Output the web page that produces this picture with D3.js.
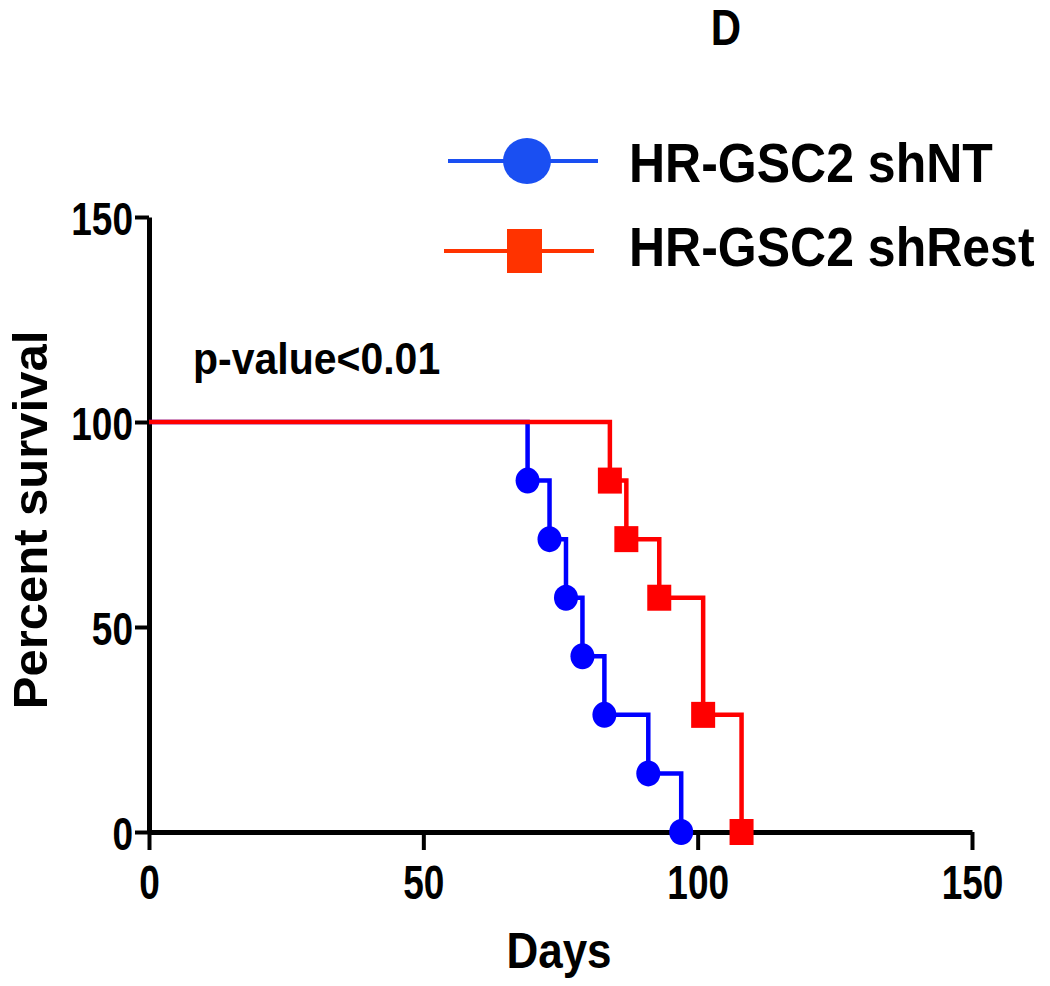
<!DOCTYPE html>
<html><head><meta charset="utf-8">
<script src="https://cdn.jsdelivr.net/npm/d3@7"></script>
<style>
html,body{margin:0;padding:0;background:#fff;}
text{font-family:"Liberation Sans",Arial,sans-serif;font-weight:bold;fill:#000;}
</style></head>
<body><svg id="c" width="1050" height="986"></svg>
<script>
const seriesNames = ["HR-GSC2 shNT", "HR-GSC2 shRest"];
const ntDays = [0, 69, 73, 76, 79, 83, 91, 97];
const ntSurv = [100, 85.71, 71.43, 57.14, 42.86, 28.57, 14.29, 0];
const restDays = [0, 84, 87, 93, 101, 108];
const restSurv = [100, 85.71, 71.43, 57.14, 28.57, 0];
const xTicks = [0, 50, 100, 150];
const yTicks = [0, 50, 100, 150];
const colors = ["#0000ff", "#ff0000"];
const legendColors = ["#1a4ff2", "#ff3300"];

const svg = d3.select("#c");
const x = d3.scaleLinear().domain([0, 150]).range([149, 972]);
const y = d3.scaleLinear().domain([0, 150]).range([832, 217]);

// axes
const xAxis = svg.append("g").attr("transform", "translate(0,832)")
  .call(d3.axisBottom(x).tickValues(xTicks).tickSize(18).tickPadding(8).tickSizeOuter(0));
const yAxis = svg.append("g").attr("transform", "translate(149,0)")
  .call(d3.axisLeft(y).tickValues(yTicks).tickSize(14).tickPadding(8).tickSizeOuter(0));
[xAxis, yAxis].forEach(a => {
  a.select(".domain").attr("stroke", "#000").attr("stroke-width", 5);
  a.selectAll(".tick line").attr("stroke", "#000").attr("stroke-width", 4);
  a.attr("font-family", null).attr("font-size", null);
});
xAxis.selectAll(".tick text")
  .attr("y", 0).attr("dy", null)
  .attr("transform", "translate(0,67) scale(1,1.3)")
  .style("font-size", "37px");
yAxis.selectAll(".tick text")
  .attr("x", 0).attr("y", 0).attr("dy", null)
  .attr("transform", "translate(-16,17) scale(1,1.25)")
  .style("font-size", "37px");

// survival step curves
function stepPath(days, surv) {
  const pts = days.map((d, i) => [d, surv[i]]);
  return d3.line().x(d => x(d[0])).y(d => y(d[1])).curve(d3.curveStepAfter)(pts);
}
const g = svg.append("g");
g.append("path").attr("d", stepPath(ntDays, ntSurv))
  .attr("fill", "none").attr("stroke", colors[0]).attr("stroke-width", 4.5);
g.append("path").attr("d", stepPath(restDays, restSurv))
  .attr("fill", "none").attr("stroke", colors[1]).attr("stroke-width", 4.5);

// markers
g.selectAll("ellipse.nt").data(ntDays.slice(1).map((d, i) => [d, ntSurv[i + 1]]))
  .enter().append("ellipse")
  .attr("cx", d => x(d[0])).attr("cy", d => y(d[1]))
  .attr("rx", 12).attr("ry", 13).attr("fill", colors[0]);
g.selectAll("rect.rs").data(restDays.slice(1).map((d, i) => [d, restSurv[i + 1]]))
  .enter().append("rect")
  .attr("x", d => x(d[0]) - 12).attr("y", d => y(d[1]) - 13)
  .attr("width", 24).attr("height", 26).attr("fill", colors[1]);

// legend
const lg = svg.append("g");
lg.append("line").attr("x1", 448).attr("x2", 598).attr("y1", 161).attr("y2", 161)
  .attr("stroke", legendColors[0]).attr("stroke-width", 4);
lg.append("ellipse").attr("cx", 527).attr("cy", 161).attr("rx", 24).attr("ry", 23)
  .attr("fill", legendColors[0]);
lg.append("line").attr("x1", 444).attr("x2", 594).attr("y1", 251).attr("y2", 251)
  .attr("stroke", legendColors[1]).attr("stroke-width", 4);
lg.append("rect").attr("x", 507).attr("y", 229).attr("width", 35).attr("height", 44)
  .attr("fill", legendColors[1]);
lg.append("text").attr("transform", "translate(629,182) scale(1,1.1)").style("font-size", "50px").text(seriesNames[0]);
lg.append("text").attr("transform", "translate(629,266) scale(1,1.1)").style("font-size", "50px").text(seriesNames[1]);

// annotations
svg.append("text").attr("transform", "translate(193,374) scale(1,1.08)").style("font-size", "41px").text("p-value<0.01");
svg.append("text").attr("transform", "translate(559,968) scale(1,1.15)")
  .attr("text-anchor", "middle").style("font-size", "44px").text("Days");
svg.append("text").attr("transform", "translate(47,520) rotate(-90)")
  .attr("text-anchor", "middle").style("font-size", "49px").text("Percent survival");
svg.append("text").attr("transform", "translate(726,45) scale(1,1.2)")
  .attr("text-anchor", "middle").style("font-size", "42px").text("D");
</script></body></html>
